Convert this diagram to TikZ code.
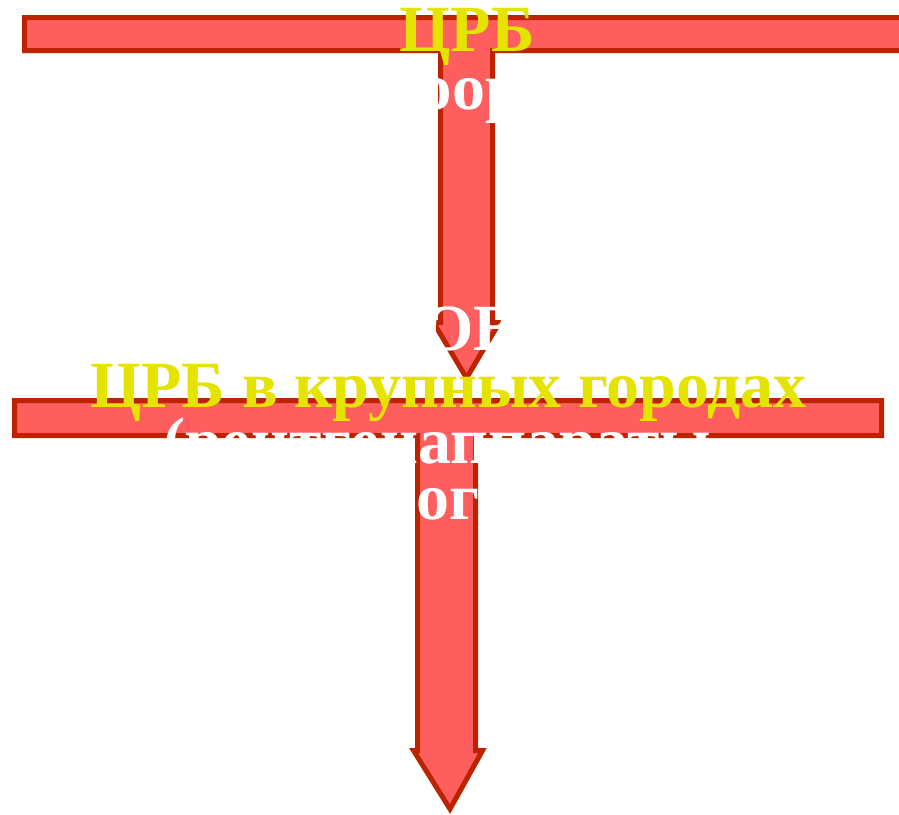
\documentclass[tikz,border=0pt]{standalone}
\usepackage{fontspec}
\setmainfont{Liberation Serif}
\definecolor{arrowfill}{RGB}{255,94,94}
\definecolor{arrowline}{RGB}{190,35,0}
\definecolor{txtyellow}{RGB}{228,228,0}
\newcommand\bigfont{\fontsize{66}{66}\selectfont\bfseries}
\newlength\shiftA
\newlength\shiftB
\tikzset{
  tshape/.style={fill=arrowfill, draw=arrowline, line width=5pt, line join=miter},
  bigtext/.style={inner sep=0pt, font=\bigfont},
  ytext/.style={bigtext, text=txtyellow},
  wtext/.style={bigtext, text=white}
}
\begin{document}
\settowidth\shiftA{\bigfont (флю}%
\settowidth\shiftB{\bigfont флюор}%
\begin{tikzpicture}[x=1pt,y=-1pt]
\useasboundingbox (0,0) rectangle (899,814);
\fill[white] (0,0) rectangle (899,814);
% upper T-arrow
\draw[tshape] (24.5,17.5) -- (930,17.5) -- (930,50.5) -- (492.5,50.5) -- (492.5,322.5)
  -- (499.5,322.5) -- (466.5,378) -- (433.5,322.5) -- (440.5,322.5) -- (440.5,50.5)
  -- (24.5,50.5) -- cycle;
% lower T-arrow
\draw[tshape] (14.5,400.5) -- (881.5,400.5) -- (881.5,435.5) -- (475.5,435.5) -- (475.5,750.5)
  -- (482.5,750.5) -- (450,809) -- (413.5,750.5) -- (417.5,750.5) -- (417.5,435.5)
  -- (14.5,435.5) -- cycle;
% texts
\node[ytext, anchor=base] (t1) at (467,51) {ЦРБ};
\node[wtext, anchor=base west, xshift=-\shiftA] (t2) at (452,109) {(флюорограф)};
\node[wtext, anchor=base west] (t3) at (422,350) {ОВ};
\node[ytext, anchor=base] (t4) at (448.5,407) {ЦРБ в крупных городах};
\node[wtext, anchor=base west] (t5) at (163,463) {(рентгенаппараты,};
\node[wtext, anchor=base west, xshift=-\shiftB] (t6) at (416,519) {флюорографы)};
\end{tikzpicture}
\end{document}
